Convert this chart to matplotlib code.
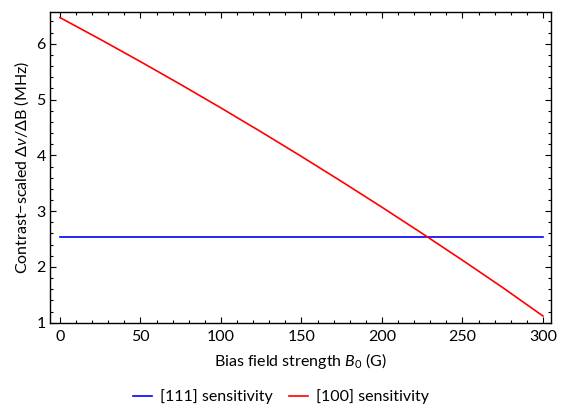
import matplotlib
matplotlib.use("Agg")
import matplotlib.pyplot as plt
from matplotlib.ticker import MultipleLocator

plt.rcParams['font.family'] = ['Lato', 'DejaVu Sans']
plt.rcParams['mathtext.fontset'] = 'custom'
plt.rcParams['mathtext.rm'] = 'Lato'
plt.rcParams['mathtext.it'] = 'Lato:italic'
plt.rcParams['mathtext.bf'] = 'Lato:bold'

# Data
b_field = [0, 25, 50, 75, 100, 125, 150, 175, 200, 225, 250, 275, 300]
sens_100 = [6.47, 6.08, 5.68, 5.27, 4.85, 4.42, 3.98, 3.53, 3.07, 2.60, 2.12, 1.63, 1.12]
sens_111 = [2.54] * len(b_field)

fs = 11.5
fig = plt.figure(figsize=(5.66, 4.08), dpi=100)
ax = fig.add_axes([50/566, 1-322.7/408, 501/566, (322.7-12)/408])

ax.plot(b_field, sens_111, color=(0, 0, 1), lw=1.2, label='[111] sensitivity')
ax.plot(b_field, sens_100, color=(1, 0, 0), lw=1.2, label='[100] sensitivity')

ax.set_xlim(-6.2, 305)
ax.set_ylim(1, 6.57)
ax.xaxis.set_major_locator(MultipleLocator(50))
ax.xaxis.set_minor_locator(MultipleLocator(10))
ax.yaxis.set_major_locator(MultipleLocator(1))
ax.yaxis.set_minor_locator(MultipleLocator(0.2))
ax.tick_params(which='both', direction='in', top=True, right=True, labelsize=fs, width=0.8)
ax.tick_params(which='major', length=4.5)
ax.tick_params(which='minor', length=2.5)
ax.tick_params(axis='x', pad=5)
ax.tick_params(axis='y', pad=3)
for s in ax.spines.values():
    s.set_linewidth(1.0)

ax.set_xlabel(r'Bias field strength $B_0$ (G)', fontsize=fs, labelpad=5)
ax.set_ylabel(r'Contrast$-$scaled $\Delta\nu/\Delta$B (MHz)', fontsize=fs, labelpad=4)

fig.legend(loc='center', bbox_to_anchor=(281/566, 1-397/408), ncol=2, frameon=False,
           fontsize=fs, handlelength=1.2, columnspacing=1.0, handletextpad=0.5)

fig.savefig('out.png', dpi=100)
